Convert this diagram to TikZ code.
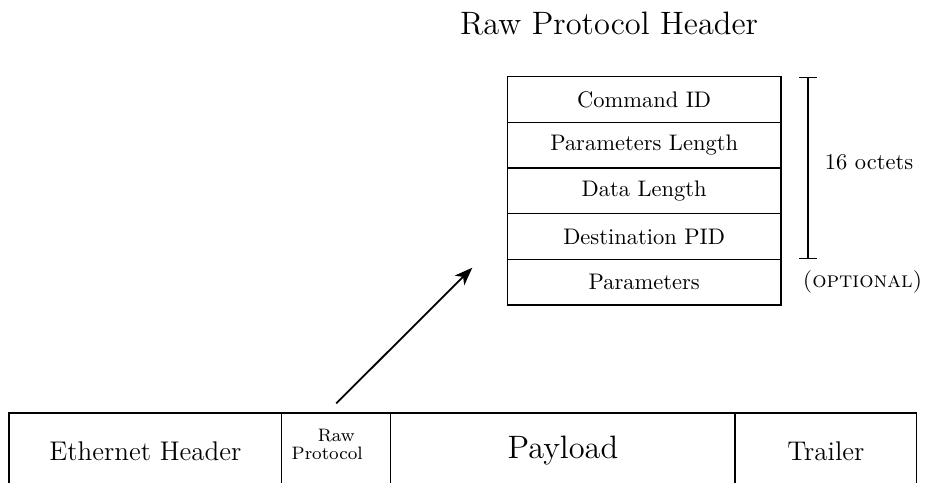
\documentclass[tikz,border=0pt]{standalone}
\usetikzlibrary{arrows.meta}
\begin{document}
\begin{tikzpicture}[x=0.44444pt, y=-0.44444pt,
  cell/.style={draw, line width=0.5pt, rectangle, inner sep=0pt, anchor=center},
  hdrrow/.style={cell, minimum width=121.64pt, minimum height=20.29pt, font=\normalsize},
  framecell/.style={cell, minimum height=33.78pt},
  dimline/.style={line width=0.5pt, {Bar[width=8pt]}-{Bar[width=8pt]}},
  ptrarrow/.style={line width=0.8pt, -{Stealth[length=8pt,width=6pt,inset=2.2pt]}}
]
\useasboundingbox (0,0) rectangle (927,483);
\clip (0,0) rectangle (927,483);

% title of the header layout
\node[font=\Large, inner sep=0pt] (title) at (609,23.5) {Raw Protocol Header};

% header fields
\node[hdrrow] (cmd)  at (644.15,99.5)  {Command ID};
\node[hdrrow] (plen) at (644.15,145.2) {Parameters Length};
\node[hdrrow] (dlen) at (644.15,190.9) {Data Length};
\node[hdrrow] (dpid) at (644.15,236.6) {Destination PID};
\node[hdrrow] (par)  at (644.15,282.2) {Parameters};

% size of the fixed part
\coordinate (dtop) at (808,77.3);
\coordinate (dbot) at (808,259);
\draw[dimline] (dtop) -- (dbot);
\node[inner sep=0pt] (octets) at (869,162) {16 octets};
\node[inner sep=0pt] (optional) at (862.5,282) {\textsc{(optional)}};

% Ethernet frame
\node[framecell, minimum width=121.2pt, font=\large] (eth) at (145.35,451) {Ethernet Header};
\node[framecell, minimum width=48.44pt] (raw) at (336.2,451) {};
\node[font=\footnotesize, align=center, inner sep=0pt] (rawtext) at (336.2,444.7)
  {Raw\\[-1.4pt]Protocol\hspace*{8pt}};
\node[framecell, minimum width=153.02pt, font=\Large] (pay) at (562.85,451) {Payload};
\node[framecell, minimum width=80.76pt, font=\large] (trl) at (825.85,451) {Trailer};

% pointer from the frame to the header layout
\coordinate (tail) at ([yshift=4pt]raw.north);
\coordinate (tip) at (472.3,267.7);
\draw[ptrarrow] (tail) -- (tip);
\end{tikzpicture}
\end{document}
